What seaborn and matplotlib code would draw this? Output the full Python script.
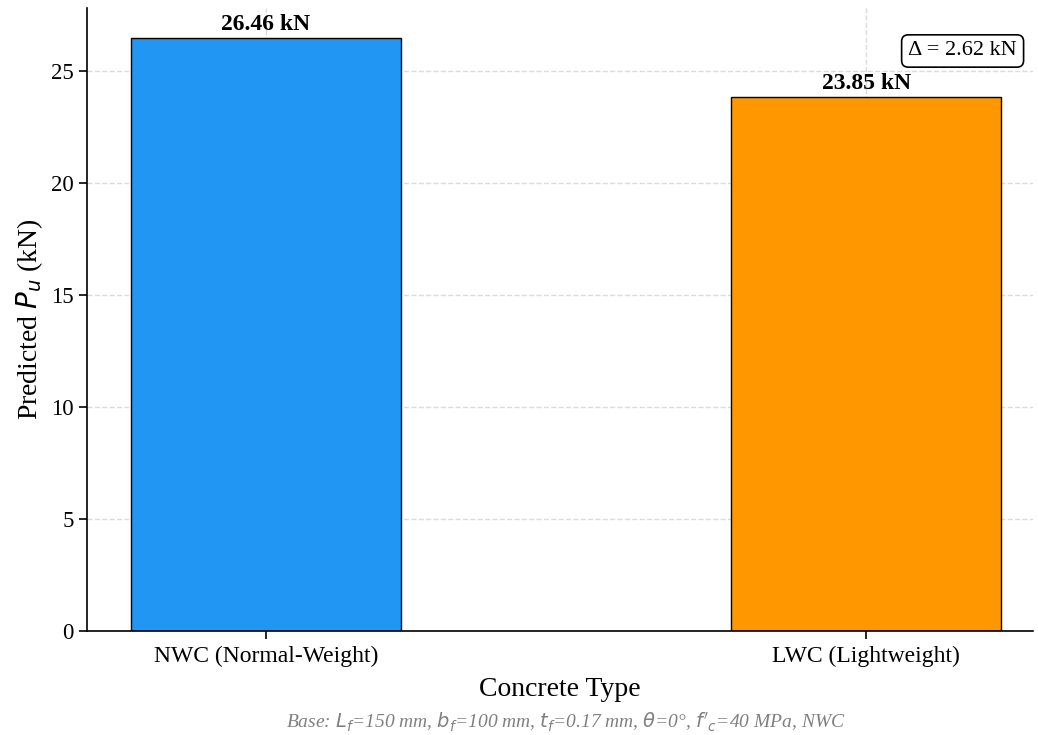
import matplotlib
matplotlib.use("Agg")
import matplotlib.pyplot as plt
import seaborn as sns
import pandas as pd

categories = ["NWC (Normal-Weight)", "LWC (Lightweight)"]
values = [26.46, 23.85]
colors = ["#2196F3", "#FF9800"]
bar_labels = ["26.46 kN", "23.85 kN"]
delta_text = "Δ = 2.62 kN"
caption = "Base: $L_f$=150 mm, $b_f$=100 mm, $t_f$=0.17 mm, $\\theta$=0°, $f'_c$=40 MPa, NWC"

sns.set_style("white")
plt.rcParams['font.family'] = ['Liberation Serif', 'DejaVu Serif']
plt.rcParams['text.color'] = 'black'
plt.rcParams['axes.labelcolor'] = 'black'
plt.rcParams['xtick.color'] = 'black'
plt.rcParams['ytick.color'] = 'black'

df = pd.DataFrame({"type": categories, "pu": values})

fig = plt.figure(figsize=(10.38, 7.35), dpi=100)
ax = fig.add_axes([87/1038, 1-631/735, (1033-87)/1038, (631-8)/735])
sns.barplot(data=df, x="type", y="pu", hue="type", palette=colors, width=0.45, saturation=1,
            edgecolor="black", linewidth=1.0, ax=ax, legend=False, zorder=2)
ax.set_xlim(-0.298, 1.278)
ax.set_ylim(0, 27.8)
ax.grid(True, linestyle="--", color="gray", alpha=0.28, linewidth=1.0, zorder=0)
ax.set_axisbelow(True)
for s in ["top", "right"]:
    ax.spines[s].set_visible(False)
for s in ["left", "bottom"]:
    ax.spines[s].set_color("black")
    ax.spines[s].set_linewidth(1.2)
ax.tick_params(axis="both", labelsize=16.5, length=6, width=1.2, color="black", left=True, bottom=True)
ax.tick_params(axis="x", labelsize=17, pad=5)
ax.set_xlabel("Concrete Type", fontsize=20, labelpad=7)
ax.set_ylabel("Predicted $P_u$ (kN)", fontsize=20, labelpad=4)
for i, (v, t) in enumerate(zip(values, bar_labels)):
    ax.text(i, v + 0.12, t, ha="center", va="bottom", fontsize=17, fontweight="bold")
ax.text(0.983, 0.931, delta_text, transform=ax.transAxes, ha="right", va="center", fontsize=16,
        bbox=dict(boxstyle="round,pad=0.3", facecolor="white", edgecolor="black", linewidth=1.2))
fig.text(566/1038, 1-722/735, caption, ha="center", va="center", fontsize=14, style="italic", color="gray")
fig.savefig("out.png", dpi=100)
